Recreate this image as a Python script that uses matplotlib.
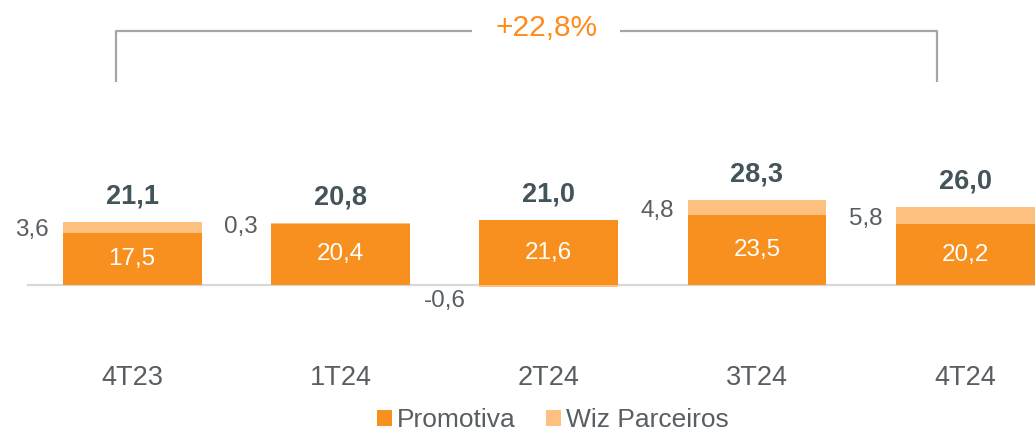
import matplotlib.pyplot as plt
import numpy as np

plt.rcParams['font.family'] = ['Liberation Sans', 'DejaVu Sans']

# quarterly values (R$ mi)
quarters = ['4T23', '1T24', '2T24', '3T24', '4T24']
promotiva = [17.5, 20.4, 21.6, 23.5, 20.2]
wiz_parceiros = [3.6, 0.3, -0.6, 4.8, 5.8]
totals = [21.1, 20.8, 21.0, 28.3, 26.0]
growth_label = '+22,8%'

orange = '#F7901E'
light_orange = '#FEC080'
dark_txt = '#44545B'
grey_txt = '#595E62'


def fmt(v):
    return f'{v:.1f}'.replace('.', ',')


fig = plt.figure(figsize=(10.35, 4.32), dpi=100)
ax = fig.add_axes([27 / 1035, 0, 1 - 27 / 1035, 1])

x = np.arange(len(quarters))
w = 0.667

ax.bar(x, promotiva, width=w, color=orange, label='Promotiva', zorder=2)
wiz = np.array(wiz_parceiros)
promo = np.array(promotiva)
wiz_bottom = np.where(wiz >= 0, promo, 0)
ax.bar(x, wiz, width=w, bottom=wiz_bottom, color=light_orange,
       label='Wiz Parceiros', zorder=2)

ax.axhline(0, color='#D9D9D9', lw=1.6, zorder=1)

for i in range(len(quarters)):
    # promotiva value inside bar
    ax.text(x[i], promo[i] / 2, fmt(promo[i]), ha='center', va='center',
            color='white', fontsize=17.5)
    # wiz value at left of bar
    if wiz[i] >= 0:
        ax.text(x[i] - w / 2 - 0.065, promo[i] + wiz[i] / 2 - 1.1, fmt(wiz[i]),
                ha='right', va='center', color=grey_txt, fontsize=17.5)
    else:
        ax.text(x[i] - w / 2 - 0.065, wiz[i] - 1.2, fmt(wiz[i]),
                ha='right', va='top', color=grey_txt, fontsize=17.5)
    top = promo[i] + max(wiz[i], 0)
    ax.text(x[i], top + 8.5, fmt(totals[i]), ha='center', va='center',
            color=dark_txt, fontsize=19.5, fontweight='bold')
    ax.text(x[i], -31, quarters[i], ha='center', va='center',
            color=grey_txt, fontsize=19.5)

# growth bracket
bx0, bx1 = x[0] - 0.08, x[-1] - 0.135
by_top, by_bot = 84.7, 67.7
tx = 1.99
br = dict(color='#A6A6A6', lw=1.6, solid_capstyle='butt')
ax.plot([bx0, bx0, tx - 0.36], [by_bot, by_top, by_top], **br)
ax.plot([tx + 0.35, bx1, bx1], [by_top, by_top, by_bot], **br)
ax.text(tx, 85.8, growth_label, ha='center', va='center', color='#FF8C1A',
        fontsize=21.5)

ax.set_xlim(-0.505, x[-1] + 0.335)
ax.set_ylim(-49, 95)
ax.axis('off')

fig.legend(loc='center', bbox_to_anchor=(553 / 1035, 1 - 420 / 432), ncol=2,
           frameon=False, fontsize=19, handlelength=0.55, handleheight=0.55,
           handletextpad=0.2, columnspacing=1.15, borderpad=0,
           labelcolor=grey_txt)

fig.savefig('out.png', dpi=100)
